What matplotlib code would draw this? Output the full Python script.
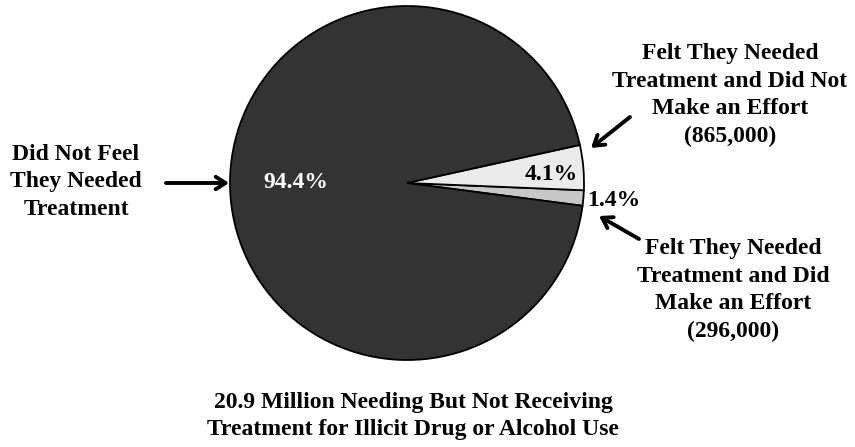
import matplotlib.pyplot as plt
import matplotlib as mpl

mpl.rcParams['font.family'] = ['Liberation Serif', 'DejaVu Serif']
mpl.rcParams['font.weight'] = 'bold'

# shares of the 20.9 million, starting with the smallest wedge
shares = [1.4, 4.1, 94.4]
colors = ['#c8c8c8', '#ebebeb', '#333333']
share_colors = ['black', 'black', 'white']
group_labels = [
    'Felt They Needed\nTreatment and Did\nMake an Effort\n(296,000)',
    'Felt They Needed\nTreatment and Did Not\nMake an Effort\n(865,000)',
    'Did Not Feel\nThey Needed\nTreatment',
]
title = '20.9 Million Needing But Not Receiving\nTreatment for Illicit Drug or Alcohol Use'

W, H = 855, 447
fig = plt.figure(figsize=(W / 100, H / 100), dpi=100)
ax = fig.add_axes([0, 0, 1, 1])


def Y(y):
    # work in top-down pixel rows
    return H - y


cx, cy, r = 407, Y(183), 177
ax.pie(shares, colors=colors, startangle=-7.4, counterclock=True,
       center=(cx, cy), radius=r, frame=True,
       wedgeprops=dict(edgecolor='black', linewidth=1.3))
ax.set_xlim(0, W)
ax.set_ylim(0, H)
ax.set_aspect('equal')
ax.axis('off')

fs = 17
# percentage labels
pct_pos = [(614, 200), (551, 174), (296, 183)]
for v, (x, y), c in zip(shares, pct_pos, share_colors):
    ax.text(x, Y(y), f'{v}%', color=c, fontsize=fs, fontweight='bold',
            ha='center', va='center')

# group labels
grp_pos = [(733, 290), (730, 95), (76, 182)]
for lab, (x, y) in zip(group_labels, grp_pos):
    ax.text(x, Y(y), lab, fontsize=fs, fontweight='bold', ha='center',
            va='center', linespacing=1.4)

ax.text(413, Y(416), title, fontsize=fs, fontweight='bold', ha='center',
        va='center', linespacing=1.33)

# pointer arrows
arrows = [((166, 183), (229, 183)), ((630, 117), (591, 148)), ((639, 239), (599, 216))]
for (x0, y0), (x1, y1) in arrows:
    ax.annotate('', xy=(x1, Y(y1)), xytext=(x0, Y(y0)),
                arrowprops=dict(arrowstyle='->,head_length=0.7,head_width=0.45',
                                lw=2.8, color='black', shrinkA=0, shrinkB=0))

fig.savefig('out.png', dpi=100)
